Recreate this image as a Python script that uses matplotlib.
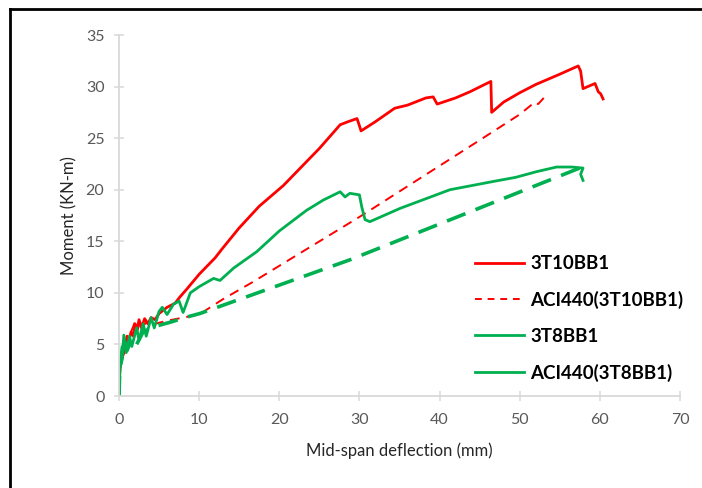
import numpy as np
import matplotlib.pyplot as plt
from matplotlib.lines import Line2D

plt.rcParams['font.family'] = ['Lato', 'DejaVu Sans']

# 3T10BB1 experimental
x_t10 = [0, 0.1, 0.3, 0.6, 0.8, 1.0, 1.2, 1.5, 1.8, 2.0, 2.2, 2.5, 2.8, 3.2, 3.6, 4.0, 4.5, 5, 6, 7, 7.6, 8.5,
         10, 12, 12.8, 15, 17.5, 20.5, 23, 25, 27.6, 28.6, 29.7, 30.0, 30.2, 32, 34.4, 36, 38.3, 39.2, 39.7,
         42, 43.8, 46.4, 46.5, 48, 50, 52, 55, 57.3, 57.6, 57.9, 58.5, 59.4, 59.8, 60.1, 60.4]
y_t10 = [0, 2.5, 3.5, 4.2, 5.0, 5.8, 5.2, 6.2, 5.8, 7.0, 6.2, 7.4, 6.6, 7.5, 7.0, 7.6, 7.4, 8.0, 8.6, 9.0, 9.6, 10.4,
         11.8, 13.4, 14.2, 16.3, 18.4, 20.4, 22.4, 24.0, 26.3, 26.6, 26.9, 26.2, 25.7, 26.6, 27.9, 28.2, 28.9, 29.0, 28.3,
         28.9, 29.5, 30.5, 27.5, 28.5, 29.4, 30.2, 31.2, 32.0, 31.5, 29.8, 30.0, 30.3, 29.5, 29.3, 28.8]

# ACI440 prediction for 3T10BB1
x_aci10 = [0, 0.1, 0.4, 0.8, 1.2, 1.6, 2.0, 2.3, 2.7, 3.0, 3.5, 4.5, 6, 8, 10, 13, 16.8, 30.5, 45, 50, 51.9, 52.3, 53]
y_aci10 = [0, 2.2, 3.6, 4.8, 5.8, 6.4, 7.2, 6.4, 7.4, 6.8, 7.2, 7.0, 7.3, 7.6, 7.9, 9.4, 11.1, 17.6, 24.8, 27.3, 28.5, 28.3, 28.9]

# 3T8BB1 experimental
x_t8 = [0, 0.05, 0.15, 0.4, 0.6, 0.9, 1.3, 1.6, 2.2, 2.5, 3.0, 3.4, 4.0, 4.4, 5.0, 5.4, 6.0, 6.8, 7.5, 8.0, 8.9,
        10, 11.8, 12.6, 14.3, 17.2, 20, 23.4, 25.5, 27.6, 28.2, 28.8, 30.0, 30.3, 30.7, 31.3, 35.1, 41.3, 46.7,
        49.5, 52.1, 54.6, 56.5, 57.9, 57.6, 57.9]
y_t8 = [0, 1.5, 2.8, 3.5, 5.9, 4.2, 5.8, 4.8, 6.6, 5.4, 7.0, 5.8, 7.6, 6.6, 8.2, 8.6, 7.9, 8.9, 9.2, 8.1, 10.0,
        10.6, 11.4, 11.2, 12.4, 14.0, 16.0, 18.0, 19.0, 19.8, 19.3, 19.65, 19.5, 18.3, 17.1, 16.9, 18.2, 20.0, 20.8,
        21.2, 21.75, 22.2, 22.2, 22.1, 21.5, 20.9]

# ACI440 prediction for 3T8BB1
x_aci8 = [0, 0.1, 0.4, 0.6, 1.0, 1.6, 2.2, 3.0, 4.3, 6.6, 8.2, 10.1, 15.5, 28.8, 57.8]
y_aci8 = [0, 2.6, 4.6, 5.6, 4.4, 5.6, 5.0, 6.2, 6.7, 7.2, 7.6, 8.0, 9.5, 13.2, 22.2]

red = '#ff0000'
green = '#00b050'

fig = plt.figure(figsize=(7.02, 4.88), dpi=100)
ax = fig.add_axes([119/702, 1-396/488, (680-119)/702, (396-35)/488])

ax.plot(x_t10, y_t10, color=red, lw=2.0)
ax.plot(x_aci10, y_aci10, color=red, lw=1.4, dashes=(5, 3.5))
ax.plot(x_t8, y_t8, color=green, lw=2.0)
ax.plot(x_aci8, y_aci8, color=green, lw=2.6, dashes=(5.5, 3))

ax.set_xlim(0, 70)
ax.set_ylim(0, 35)
ax.set_xticks(np.arange(0, 71, 10))
ax.set_yticks(np.arange(0, 36, 5))
for s in ['top', 'right']:
    ax.spines[s].set_visible(False)
for s in ['left', 'bottom']:
    ax.spines[s].set_color('#d9d9d9')
    ax.spines[s].set_linewidth(1.3)
ax.tick_params(direction='inout', length=7, width=1.1, color='#d9d9d9',
               labelcolor='#595959', labelsize=11.5)
ax.tick_params(axis='x', pad=9)
ax.tick_params(axis='y', pad=7)
ax.set_xlabel('Mid-span deflection (mm)', fontsize=12, color='#262626', labelpad=11)
ax.set_ylabel('Moment (KN-m)', fontsize=12, color='#262626', labelpad=6)

handles = [Line2D([], [], color=red, lw=2.0),
           Line2D([], [], color=red, lw=1.4, dashes=(3.5, 3)),
           Line2D([], [], color=green, lw=2.0),
           Line2D([], [], color=green, lw=2.0)]
labels = ['3T10BB1', 'ACI440(3T10BB1)', '3T8BB1', 'ACI440(3T8BB1)']
leg = ax.legend(handles, labels, loc='upper left', bbox_to_anchor=(0.605, 0.437),
                frameon=False, handlelength=2.6, handletextpad=0.35,
                labelspacing=1.0, prop={'weight': 'bold', 'size': 13.5})

# outer frame (only left and top edges visible in the crop)
fig.add_artist(Line2D([10/702, 10/702], [0, 1-9/488], color='black', lw=2, transform=fig.transFigure))
fig.add_artist(Line2D([10/702, 1], [1-9/488, 1-9/488], color='black', lw=2, transform=fig.transFigure))

fig.savefig('out.png', dpi=100)
